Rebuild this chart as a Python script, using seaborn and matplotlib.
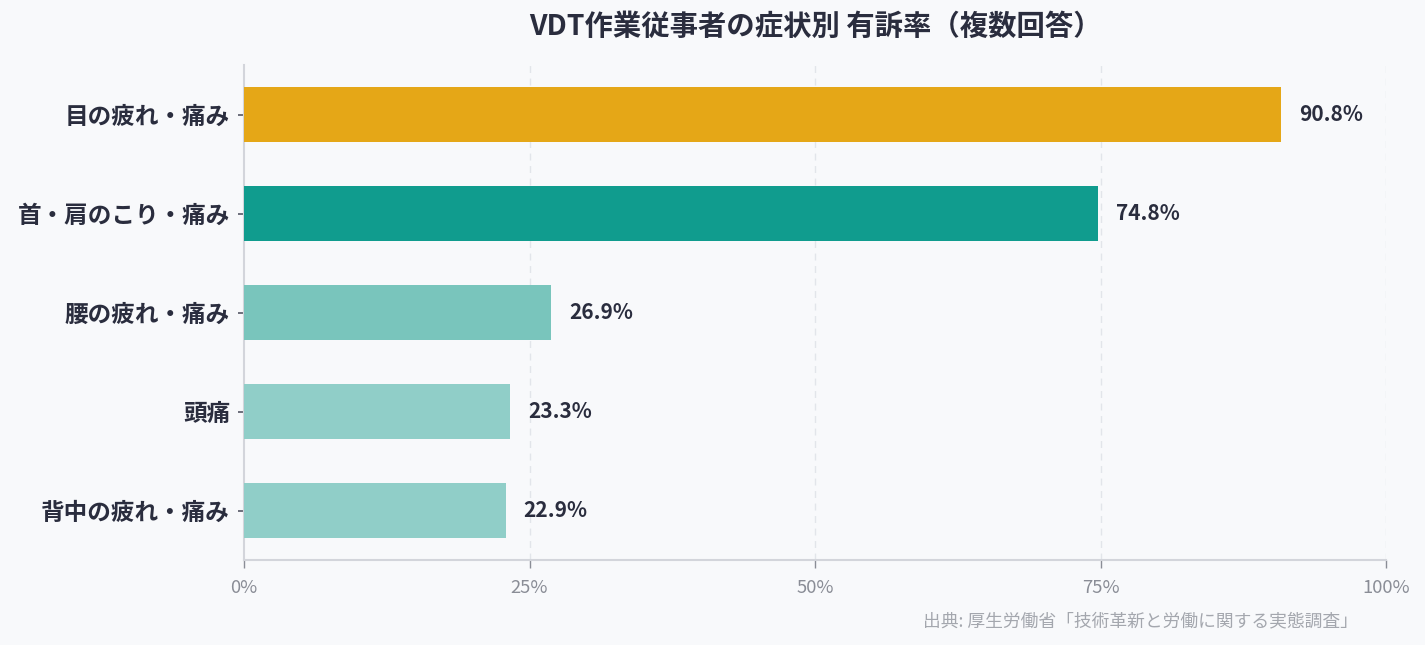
import matplotlib
matplotlib.use("Agg")
import matplotlib.pyplot as plt
import seaborn as sns
import pandas as pd
from matplotlib.ticker import FuncFormatter

categories = ["目の疲れ・痛み", "首・肩のこり・痛み", "腰の疲れ・痛み", "頭痛", "背中の疲れ・痛み"]
values = [90.8, 74.8, 26.9, 23.3, 22.9]
colors = ["#E5A717", "#109C8E", "#79C5BC", "#90CEC8", "#90CEC8"]
xticks = [0, 25, 50, 75, 100]
title = "VDT作業従事者の症状別 有訴率（複数回答）"
source = "出典: 厚生労働省「技術革新と労働に関する実態調査」"

BG = "#F8F9FB"
DARK = "#2A2D3E"
GRAY = "#8A8D96"

sns.set_theme(style="white")
plt.rcParams["font.family"] = ["Noto Sans CJK JP", "DejaVu Sans"]

df = pd.DataFrame({"cat": categories, "val": values})

fig = plt.figure(figsize=(14.25, 6.45), dpi=100, facecolor=BG)
ax = fig.add_axes([244/1425, 1-560/645, (1386-244)/1425, (560-65)/645])
ax.set_facecolor(BG)

sns.barplot(data=df, y="cat", x="val", hue="cat", palette=colors, orient="h",
            width=0.55, legend=False, ax=ax, saturation=1, zorder=3, linewidth=0)

ax.set_xlim(0, 100)
ax.set_ylim(4.5, -0.5)
ax.set_xticks(xticks)
ax.xaxis.set_major_formatter(FuncFormatter(lambda v, p: f"{v:.0f}%"))
ax.set_xlabel("")
ax.set_ylabel("")

for x in xticks[1:]:
    ax.axvline(x, color="#E2E5EA", lw=1, ls=(0, (5, 4)), zorder=0)

for i, v in enumerate(values):
    ax.annotate(f"{v:.1f}%", (v, i), xytext=(13, 0), textcoords="offset points",
                va="center", ha="left", fontsize=15, fontweight="bold", color=DARK)

for s in ["top", "right"]:
    ax.spines[s].set_visible(False)
ax.spines["left"].set_color("#D3D5DB")
ax.spines["left"].set_linewidth(1.5)
ax.spines["bottom"].set_color("#D3D5DB")
ax.spines["bottom"].set_linewidth(1.5)

ax.tick_params(axis="y", left=True, length=4, width=1.2, color="#555866", pad=6,
               labelsize=17, labelcolor=DARK)
for lab in ax.get_yticklabels():
    lab.set_fontweight("bold")
ax.tick_params(axis="x", bottom=True, length=6, width=1, color="#8A8D96", pad=8,
               labelsize=13.3, labelcolor=GRAY)

fig.text((244+1386)/2/1425, 1-27/645, title, ha="center", va="center",
         fontsize=20.4, fontweight="bold", color=DARK)
fig.text(1358/1425, 1-621/645, source, ha="right", va="center", fontsize=12.8, color="#A4A7AE")

fig.savefig("out.png", dpi=100, facecolor=BG)
